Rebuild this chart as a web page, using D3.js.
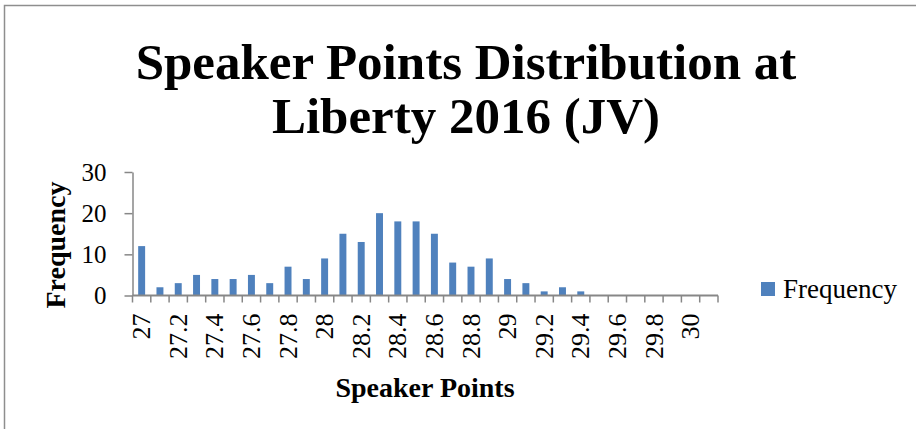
<!DOCTYPE html>
<html>
<head>
<meta charset="utf-8">
<script src="https://cdn.jsdelivr.net/npm/d3@7"></script>
<style>
  body { margin: 0; background: #fff; }
  svg { display: block; }
</style>
</head>
<body>
<div id="chart"></div>
<script>
// Speaker point bins (27.0 .. 30.1) and how many speakers fell in each
const bins = ["27", "27.1", "27.2", "27.3", "27.4", "27.5", "27.6", "27.7", "27.8", "27.9",
              "28", "28.1", "28.2", "28.3", "28.4", "28.5", "28.6", "28.7", "28.8", "28.9",
              "29", "29.1", "29.2", "29.3", "29.4", "29.5", "29.6", "29.7", "29.8", "29.9",
              "30", "30.1"];
const frequency = [12, 2, 3, 5, 4, 4, 5, 3, 7, 4,
                   9, 15, 13, 20, 18, 18, 15, 8, 7, 9,
                   4, 3, 1, 2, 1, 0, 0, 0, 0, 0,
                   0, 0];
const yTicks = [0, 10, 20, 30];
const titleLines = ["Speaker Points Distribution at", "Liberty 2016 (JV)"];

const width = 916, height = 429;
const margin = { top: 172, right: 198, bottom: 133, left: 132.5 };
const font = "'Liberation Serif', 'Times New Roman', serif";
const axisGray = "#878787";
const barColor = "#4f81bd";

const svg = d3.select("#chart")
    .append("svg")
    .attr("width", width)
    .attr("height", height);

// chart frame (only left and top edges fall inside the picture)
svg.append("rect")
    .attr("x", 4.5)
    .attr("y", 5.5)
    .attr("width", width + 20)
    .attr("height", height + 20)
    .attr("fill", "none")
    .attr("stroke", "#8e8e8e")
    .attr("stroke-width", 1.5);

const x = d3.scaleBand()
    .domain(bins)
    .range([margin.left, width - margin.right])
    .padding(0);

const y = d3.scaleLinear()
    .domain([0, 30])
    .range([height - margin.bottom - 0.5, margin.top]);

const barW = x.bandwidth() * 0.38;

// bars
svg.append("g")
    .selectAll("rect")
    .data(bins.map((b, i) => ({ bin: b, value: frequency[i] })))
    .enter().append("rect")
    .attr("x", d => x(d.bin) + (x.bandwidth() - barW) / 2)
    .attr("y", d => y(d.value))
    .attr("width", barW)
    .attr("height", d => y(0) - y(d.value))
    .attr("fill", barColor);

// y axis
const yAxis = svg.append("g")
    .attr("transform", `translate(${margin.left},0)`)
    .call(d3.axisLeft(y).tickValues(yTicks).tickSize(8).tickPadding(18).tickSizeOuter(0));
yAxis.select(".domain").attr("stroke", axisGray).attr("stroke-width", 1.5);
yAxis.selectAll(".tick line").attr("stroke", axisGray).attr("stroke-width", 1.5);
yAxis.selectAll(".tick text")
    .attr("font-family", font)
    .attr("font-size", 25)
    .attr("fill", "#000");

// x axis: line with tick marks on the bin boundaries
const boundaries = bins.map(b => x(b)).concat([x(bins[bins.length - 1]) + x.bandwidth()]);
svg.append("line")
    .attr("x1", margin.left)
    .attr("x2", boundaries[boundaries.length - 1])
    .attr("y1", y(0))
    .attr("y2", y(0))
    .attr("stroke", axisGray)
    .attr("stroke-width", 2);
svg.append("g")
    .selectAll("line")
    .data(boundaries)
    .enter().append("line")
    .attr("x1", d => d)
    .attr("x2", d => d)
    .attr("y1", y(0))
    .attr("y2", y(0) + 7)
    .attr("stroke", axisGray)
    .attr("stroke-width", 1.5);

// x labels, every second bin, rotated
const xAxis = svg.append("g")
    .attr("transform", `translate(0,${y(0)})`)
    .call(d3.axisBottom(x).tickValues(bins.filter((b, i) => i % 2 === 0)).tickSize(0));
xAxis.select(".domain").remove();
xAxis.selectAll(".tick text")
    .attr("font-family", font)
    .attr("font-size", 26)
    .attr("fill", "#000")
    .attr("text-anchor", "end")
    .attr("transform", "translate(0,18) rotate(-90)")
    .attr("x", 0)
    .attr("y", 0)
    .attr("dy", "0.33em");

// title
svg.append("g")
    .selectAll("text")
    .data(titleLines)
    .enter().append("text")
    .attr("x", 466)
    .attr("y", (d, i) => 79 + i * 54)
    .attr("text-anchor", "middle")
    .attr("font-family", font)
    .attr("font-weight", "bold")
    .attr("font-size", 51)
    .text(d => d);

// axis titles
svg.append("text")
    .attr("x", 425)
    .attr("y", 397)
    .attr("text-anchor", "middle")
    .attr("font-family", font)
    .attr("font-weight", "bold")
    .attr("font-size", 28)
    .text("Speaker Points");

svg.append("text")
    .attr("transform", "translate(65,245) rotate(-90)")
    .attr("text-anchor", "middle")
    .attr("font-family", font)
    .attr("font-weight", "bold")
    .attr("font-size", 28)
    .text("Frequency");

// legend
svg.append("rect")
    .attr("x", 761)
    .attr("y", 282)
    .attr("width", 14)
    .attr("height", 14)
    .attr("fill", barColor);
svg.append("text")
    .attr("x", 783)
    .attr("y", 298)
    .attr("font-family", font)
    .attr("font-size", 27)
    .text("Frequency");
</script>
</body>
</html>
